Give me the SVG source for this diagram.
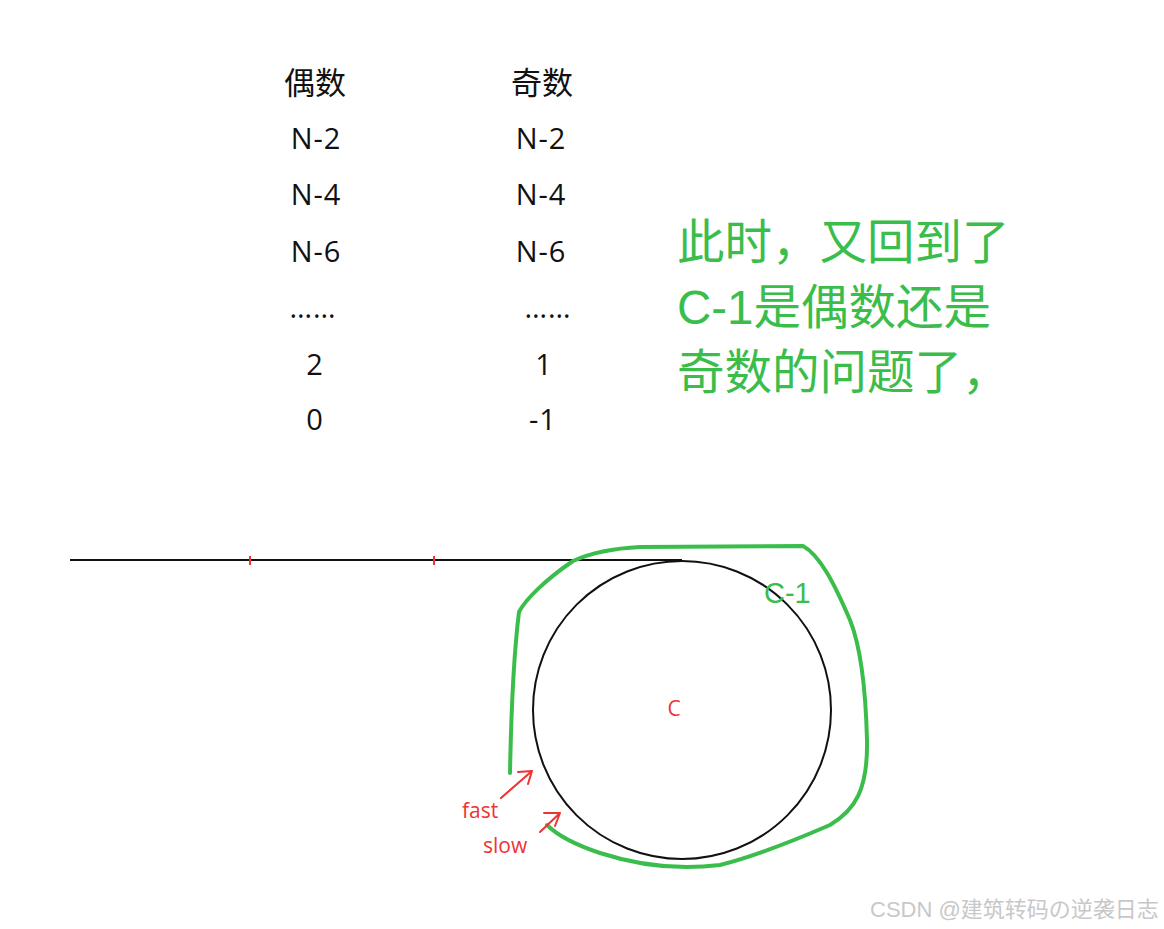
<svg xmlns="http://www.w3.org/2000/svg" width="1164" height="929" viewBox="0 0 1164 929">
<style>
.tbl{font-family:"Open Sans","Noto Sans CJK SC",sans-serif;font-size:29px;fill:#111;text-anchor:middle;letter-spacing:1px}
.hdr{font-family:"Noto Sans CJK SC",sans-serif;font-size:31px;fill:#111;text-anchor:middle}
.note{font-family:"Liberation Sans","Noto Sans CJK SC",sans-serif;font-size:47.5px;fill:#3bbd4b}
.red{font-family:"Open Sans","Liberation Sans",sans-serif;font-size:21px;fill:#ee3333}
.wm{font-family:"Liberation Sans","Noto Sans CJK SC",sans-serif;font-size:22px;fill:#c8c8c8}
.g{fill:none;stroke:#3bbd4b;stroke-width:4;stroke-linecap:round;stroke-linejoin:round}
.r{fill:none;stroke:#ee3333;stroke-width:2;stroke-linecap:round;stroke-linejoin:round}
</style>
<rect width="1164" height="929" fill="#fff"/>
<g id="table">
<text class="hdr" x="315" y="94">偶数</text>
<text class="hdr" x="542" y="94">奇数</text>
<text class="tbl" x="316" y="149">N-2</text>
<text class="tbl" x="541" y="149">N-2</text>
<text class="tbl" x="316" y="205">N-4</text>
<text class="tbl" x="541" y="205">N-4</text>
<text class="tbl" x="316" y="262">N-6</text>
<text class="tbl" x="541" y="262">N-6</text>
<text class="tbl" x="313" y="318">……</text>
<text class="tbl" x="548" y="318">……</text>
<text class="tbl" x="315" y="375">2</text>
<text class="tbl" x="544" y="375">1</text>
<text class="tbl" x="315" y="430">0</text>
<text class="tbl" x="543" y="430">-1</text>
</g>
<g id="note">
<text class="note" x="677" y="259">此时，又回到了</text>
<text class="note" x="677" y="324">C-1是偶数还是</text>
<text class="note" x="677" y="389">奇数的问题了，</text>
</g>
<g id="track">
<line x1="70" y1="560" x2="682" y2="560" stroke="#111" stroke-width="2"/>
<line x1="250" y1="556" x2="250" y2="565" stroke="#ee3333" stroke-width="2"/>
<line x1="434" y1="556" x2="434" y2="565" stroke="#ee3333" stroke-width="2"/>
<circle cx="682" cy="710" r="149" fill="none" stroke="#111" stroke-width="2"/>
<text class="red" x="674" y="716" text-anchor="middle">C</text>
</g>
<g id="loop">
<path class="g" d="M510,773 C511,720 513,660 519,612 C525,600 545,580 573,561 C595,551 620,548 640,547 L803,546 C820,555 835,585 850,620 C862,650 866,700 867,740 C868,790 855,810 830,825 C800,838 760,855 720,865 C680,870 640,866 600,853 C570,843 555,833 547,825"/>
<text x="764" y="603" font-family="Liberation Sans,sans-serif" font-size="29" fill="#3bbd4b">C-1</text>
</g>
<g id="connectors">
<path class="r" d="M501,798 L532,771 M518,772 L532,771 L528,784"/>
<path class="r" d="M540,832 L560,813 M544,813 L560,813 L555,826"/>
</g>
<g id="labels">
<text class="red" x="462" y="818">fast</text>
<text class="red" x="483" y="853">slow</text>
</g>
<text class="wm" x="870" y="917">CSDN @建筑转码の逆袭日志</text>
</svg>
